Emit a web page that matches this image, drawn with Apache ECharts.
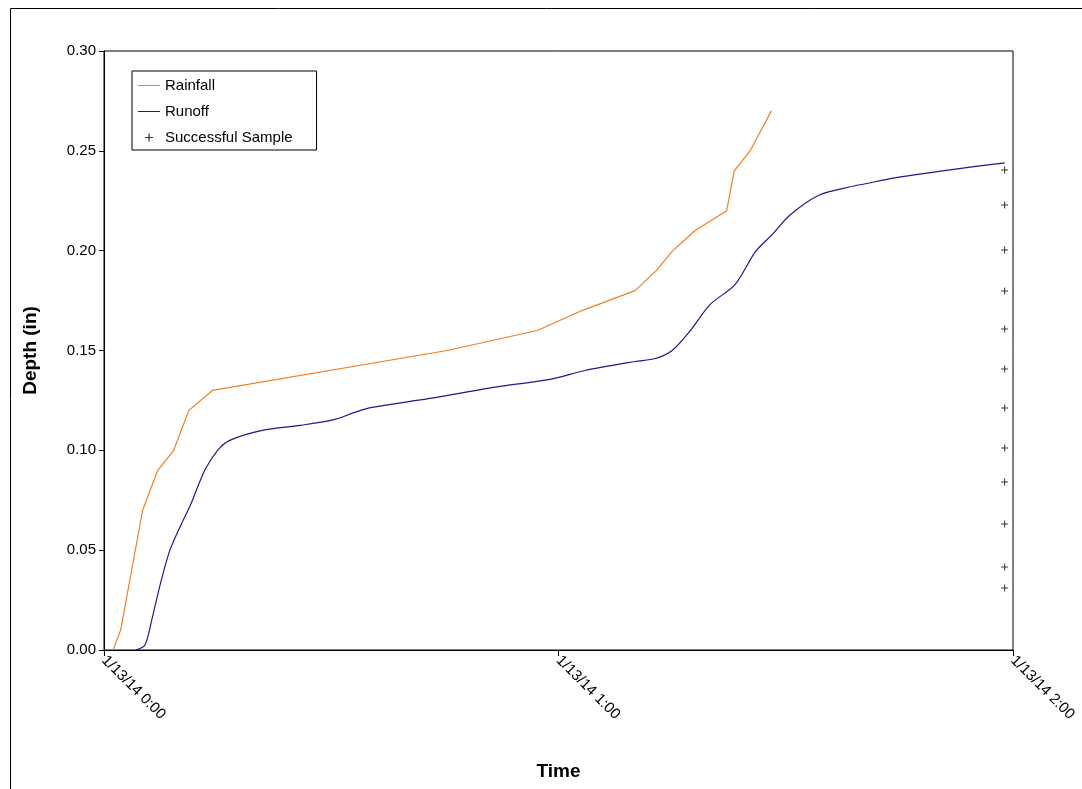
<!doctype html>
<html>
<head>
<meta charset="utf-8">
<script src="https://cdn.jsdelivr.net/npm/echarts@6/dist/echarts.min.js"></script>
<style>html,body{margin:0;background:#fff}#main{width:1082px;height:789px}</style>
</head>
<body>
<div id="main"></div>
<script>
// minutes after 1/13/14 0:00, depth in inches
var rainfall = [[1.2,0],[2.2,0.01],[5.1,0.07],[7.1,0.09],[9.2,0.10],[11.2,0.12],[14.3,0.13],[45.3,0.15],[57.2,0.16],[63.1,0.17],[70.1,0.18],[72.9,0.19],[75.1,0.20],[78.0,0.21],[82.2,0.22],[83.2,0.24],[85.3,0.25],[88.1,0.27]];
var runoff = [[4.2,0],[5.4,0.0025],[6.3,0.015],[7.4,0.0325],[8.7,0.05],[10.2,0.063],[11.4,0.0725],[13.3,0.09],[15.0,0.1],[16.6,0.105],[20.9,0.11],[25.9,0.1125],[30.5,0.1155],[33.1,0.119],[35.4,0.1215],[43.0,0.126],[52.3,0.132],[58.9,0.1355],[63.5,0.14],[70.1,0.1445],[72.8,0.146],[75.0,0.15],[77.4,0.16],[80.0,0.173],[83.3,0.183],[86.0,0.1995],[88.2,0.208],[90.6,0.218],[94.5,0.228],[98.5,0.232],[100.5,0.2335],[104.4,0.2365],[111.7,0.2405],[118.9,0.244]];
var samples = [[118.9,0.2404],[118.9,0.2229],[118.9,0.2003],[118.9,0.1798],[118.9,0.1608],[118.9,0.1407],[118.9,0.1212],[118.9,0.1012],[118.9,0.0841],[118.9,0.0631],[118.9,0.0416],[118.9,0.0311]];

var plus = 'path://M0,3.4h8v1.2h-8zM3.4,0h1.2v8h-1.2z';
var chart = echarts.init(document.getElementById('main'));
chart.setOption({
  animation: false,
  textStyle: {fontFamily: 'Liberation Sans, Arial', color: '#000'},
  graphic: [{type: 'rect', shape: {x: 10.5, y: 8.5, width: 1080, height: 790}, style: {fill: 'none', stroke: '#000', lineWidth: 1}}],
  grid: {left: 104, right: 69, top: 51, bottom: 139, show: true, borderColor: '#000', borderWidth: 1},
  legend: {
    orient: 'vertical', left: 132, top: 71,
    padding: [7, 24, 5, 6], itemGap: 11,
    borderColor: '#000', borderWidth: 1, itemWidth: 22, itemHeight: 8,
    textStyle: {fontSize: 15, color: '#000'},
    data: [{name: 'Rainfall', icon: 'path://M0,3.5h22v1h-22z'}, {name: 'Runoff', icon: 'path://M0,3.5h22v1h-22z'}, {name: 'Successful Sample', icon: 'path://M7,3.4h8v1.2h-8zM10.4,0h1.2v8h-1.2z'}]
  },
  xAxis: {
    type: 'value', min: 0, max: 120, interval: 60,
    name: 'Time', nameLocation: 'middle', nameGap: 112,
    nameTextStyle: {fontSize: 19, fontWeight: 'bold', color: '#000'},
    axisLine: {lineStyle: {color: '#000'}},
    axisTick: {inside: false, length: 6, lineStyle: {color: '#000'}},
    splitLine: {show: false},
    axisLabel: {rotate: -45, fontSize: 15, color: '#000', align: 'left', margin: 8,
      formatter: function (v) { return '1/13/14 ' + Math.floor(v / 60) + ':00'; }}
  },
  yAxis: {
    type: 'value', min: 0, max: 0.3, interval: 0.05,
    name: 'Depth (in)', nameLocation: 'middle', nameGap: 64,
    nameTextStyle: {fontSize: 19, fontWeight: 'bold', color: '#000'},
    axisLine: {show: true, lineStyle: {color: '#000'}},
    axisTick: {show: true, length: 5, lineStyle: {color: '#000'}},
    splitLine: {show: false},
    axisLabel: {fontSize: 15, color: '#000', formatter: function (v) { return v.toFixed(2); }}
  },
  series: [
    {name: 'Rainfall', type: 'line', data: rainfall, showSymbol: false, color: '#f07f22', lineStyle: {width: 1.2}},
    {name: 'Runoff', type: 'line', data: runoff, showSymbol: false, smooth: 0.3, color: '#1c1a8c', lineStyle: {width: 1.2}},
    {name: 'Successful Sample', type: 'scatter', data: samples, symbol: plus, symbolSize: 7, color: '#000'}
  ]
});
</script>
</body>
</html>
